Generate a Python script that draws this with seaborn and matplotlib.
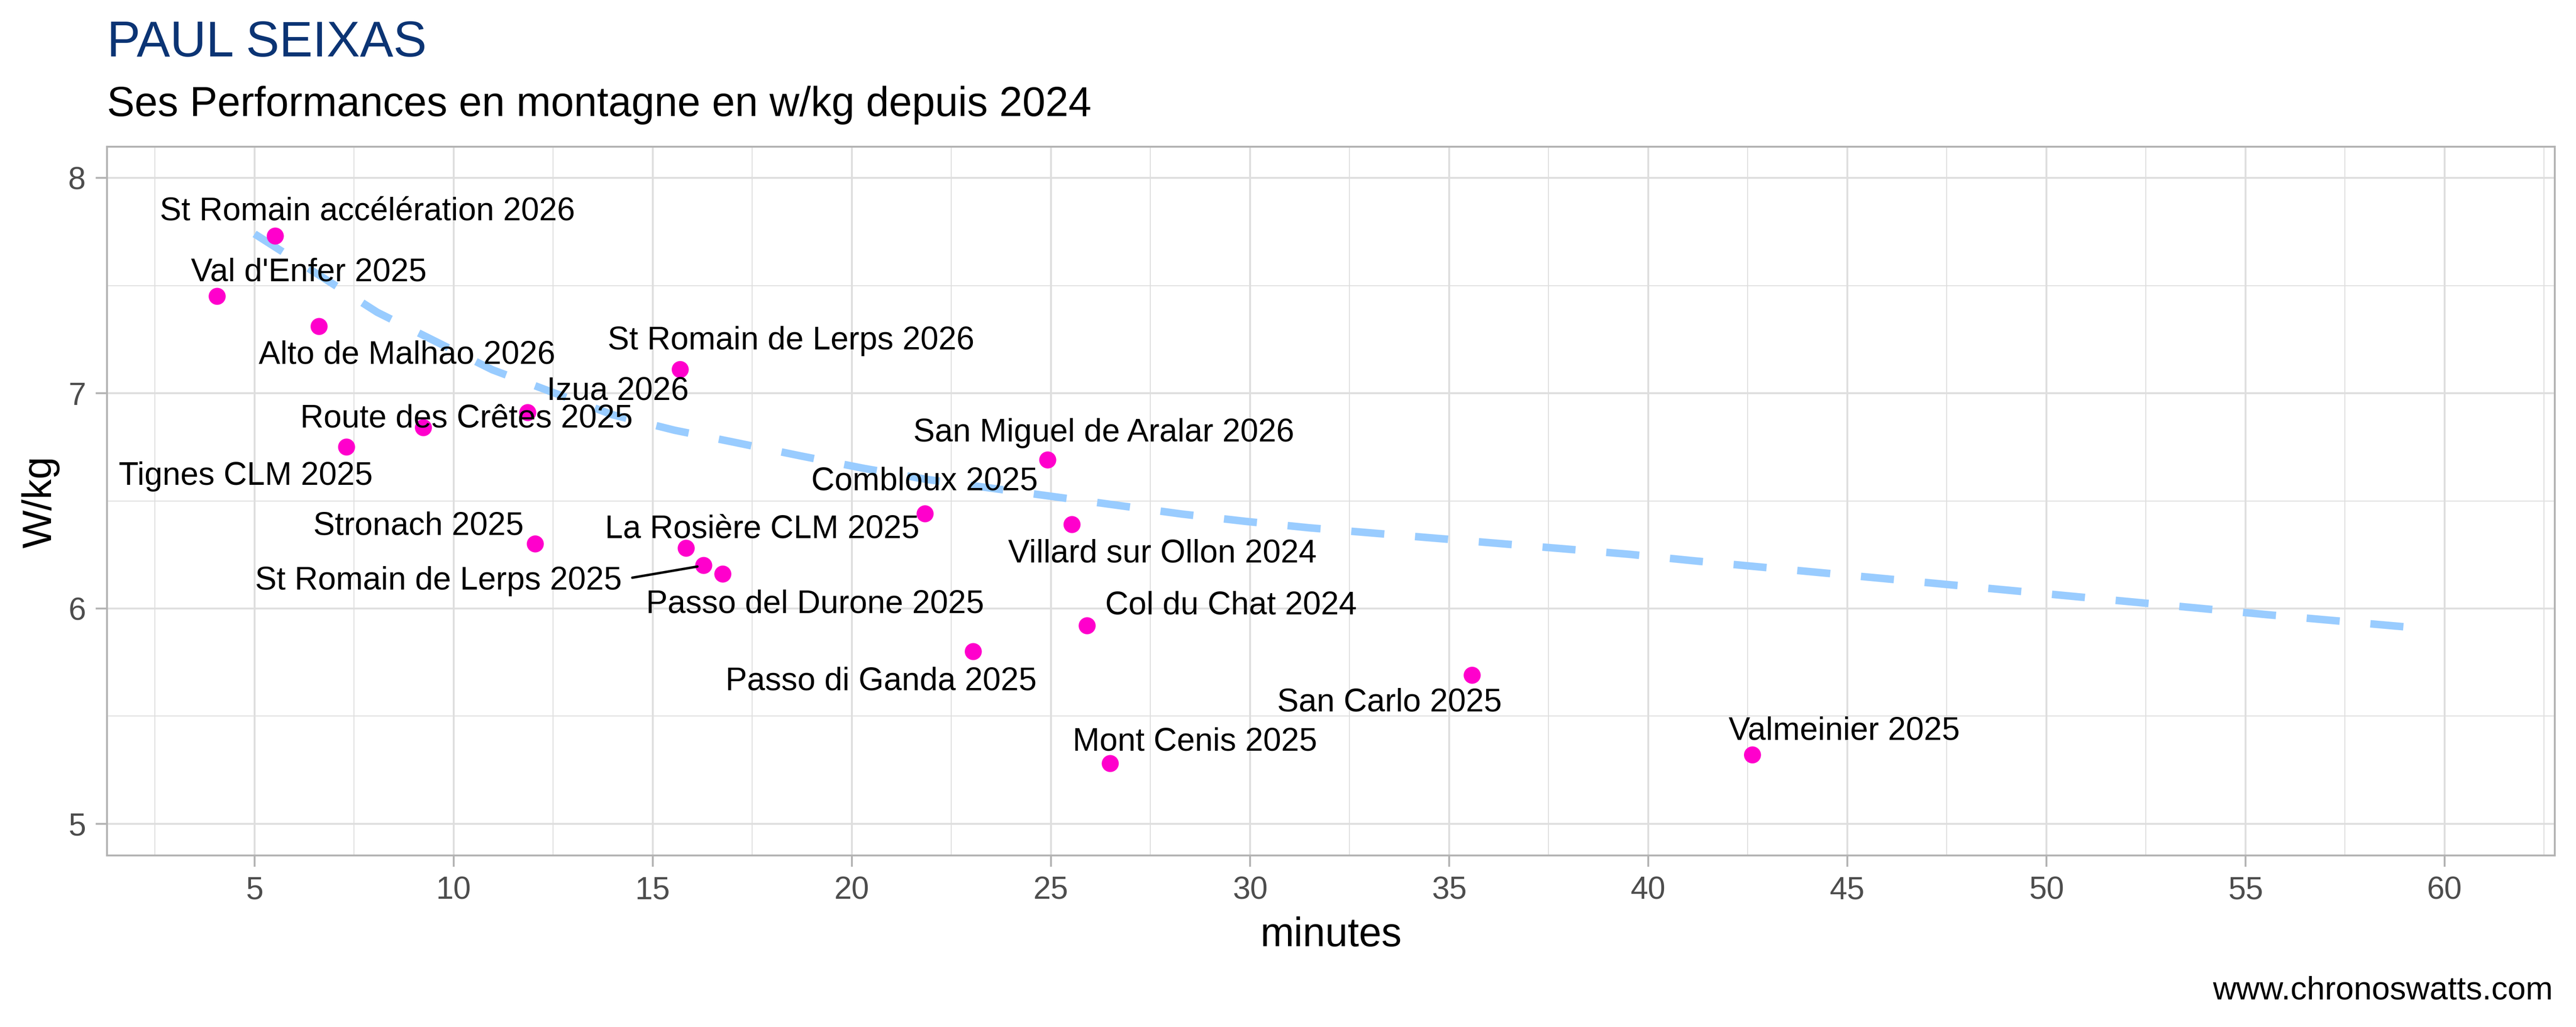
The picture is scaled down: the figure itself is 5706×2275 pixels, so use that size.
import matplotlib
matplotlib.use("Agg")
import matplotlib.pyplot as plt
from matplotlib.ticker import MultipleLocator
import seaborn as sns
import pandas as pd

# ---------------- data ----------------
climbs = [
    "St Romain accélération 2026", "Val d'Enfer 2025", "Alto de Malhao 2026",
    "St Romain de Lerps 2026", "Izua 2026", "Route des Crêtes 2025",
    "Tignes CLM 2025", "San Miguel de Aralar 2026", "Combloux 2025",
    "Villard sur Ollon 2024", "Stronach 2025", "La Rosière CLM 2025",
    "St Romain de Lerps 2025", "Passo del Durone 2025", "Col du Chat 2024",
    "Passo di Ganda 2025", "San Carlo 2025", "Valmeinier 2025", "Mont Cenis 2025",
]
minutes = [5.52, 4.06, 6.62, 15.69, 11.86, 9.24, 7.31, 24.92, 21.84, 25.53,
           12.05, 15.84, 16.28, 16.76, 25.91, 23.05, 35.58, 42.62, 26.49]
wkg = [7.73, 7.45, 7.31, 7.11, 6.91, 6.84, 6.75, 6.69, 6.44, 6.39,
       6.30, 6.28, 6.20, 6.16, 5.92, 5.80, 5.69, 5.32, 5.28]

# reference trend curve
trend_minutes = [5.0, 8.08, 10.97, 13.99, 15.55, 17.0, 18.71, 20.30, 21.87,
                 28.28, 29.88, 31.48, 38.03, 39.52, 41.13, 49.16, 50.76, 55.57, 59.18]
trend_wkg = [7.74, 7.376, 7.109, 6.90, 6.828, 6.774, 6.709, 6.651, 6.600,
             6.439, 6.405, 6.375, 6.275, 6.252, 6.222, 6.083, 6.055, 5.971, 5.912]

x_ticks = [5, 10, 15, 20, 25, 30, 35, 40, 45, 50, 55, 60]
y_ticks = [5, 6, 7, 8]

title = "PAUL SEIXAS"
subtitle = "Ses Performances en montagne en w/kg depuis 2024"
caption = "www.chronoswatts.com"

df = pd.DataFrame({"climb": climbs, "minutes": minutes, "wkg": wkg})
trend = pd.DataFrame({"minutes": trend_minutes, "wkg": trend_wkg})

# ---------------- layout / style ----------------
# label offsets (pixels at 300 dpi): (dx to text centre, dy up to baseline)
label_offsets_px = [
    (204, 34), (203, 34), (195, -82), (245, 45), (199, 28), (95, 1),
    (-223, -84), (124, 41), (-1, 53), (200, -84), (-259, 20), (168, 22),
    (-588, -53), (204, -86), (319, 26), (-204, -85), (-183, -80),
    (203, 34), (187, 29),
]
segment_labels = {"St Romain de Lerps 2025"}

W, H, DPI = 5706, 2275, 300
sns.set_theme(style="whitegrid")
plt.rcParams["font.family"] = ["Liberation Sans", "DejaVu Sans"]

fig = plt.figure(figsize=(W / DPI, H / DPI), dpi=DPI)
fig.patch.set_facecolor("white")
L, R, T, B = 237, 5659, 325, 1895
ax = fig.add_axes([L / W, 1 - B / H, (R - L) / W, (B - T) / H])
ax.set_facecolor("white")

grid_col = "#DEDEDE"
border_col = "#B3B3B3"
px2pt = 72 / DPI

sns.lineplot(data=trend, x="minutes", y="wkg", ax=ax, color="#99CCFF",
             linewidth=4.0, linestyle=(0, (4.4, 4.1)), zorder=3,
             legend=False, estimator=None)
for ln in ax.get_lines():
    ln.set_dash_capstyle("butt")

sns.scatterplot(data=df, x="minutes", y="wkg", ax=ax, color="#FF00CC",
                s=82, edgecolor="none", linewidth=0, zorder=4, legend=False)

for name, mx, my, (dx, dy) in zip(climbs, minutes, wkg, label_offsets_px):
    kw = {}
    if name in segment_labels:
        kw["arrowprops"] = dict(arrowstyle="-", color="black", lw=1.3,
                                shrinkA=3.6, shrinkB=3.4, relpos=(1.0, 0.55))
    ax.annotate(name, xy=(mx, my), xytext=(dx * px2pt, dy * px2pt),
                textcoords="offset points", ha="center", va="baseline",
                fontsize=17.2, color="black", zorder=5, **kw)

ax.set_xlim(1.293, 62.77)
ax.set_ylim(4.853, 8.145)
ax.set_xticks(x_ticks)
ax.set_yticks(y_ticks)
ax.xaxis.set_minor_locator(MultipleLocator(2.5))
ax.yaxis.set_minor_locator(MultipleLocator(0.5))
ax.grid(which="major", color=grid_col, linewidth=1.0)
ax.grid(which="minor", color=grid_col, linewidth=0.5)
ax.set_axisbelow(True)
for sp in ax.spines.values():
    sp.set_color(border_col)
    sp.set_linewidth(1.0)
ax.tick_params(axis="both", which="major", length=6, width=1.0,
               color=border_col, labelcolor="#4D4D4D", labelsize=16.8)
ax.tick_params(axis="x", which="major", pad=4.8, bottom=True)
ax.tick_params(axis="y", which="major", pad=5.3, left=True)
ax.tick_params(which="minor", length=0)
ax.set_xlabel("")
ax.set_ylabel("")

fig.text(L / W, 1 - 125 / H, title, fontsize=26.6, color="#0B3474",
         ha="left", va="baseline")
fig.text(L / W, 1 - 257 / H, subtitle, fontsize=22.0, color="black",
         ha="left", va="baseline")
fig.text((L + R) / 2 / W, 1 - 2096 / H, "minutes", fontsize=21.5,
         color="black", ha="center", va="baseline")
fig.text(90 / W, 1 - 1112 / H, "W/kg", fontsize=21.5, color="black",
         rotation=90, ha="center", va="center")
fig.text(5655 / W, 1 - 2213 / H, caption, fontsize=17.3, color="black",
         ha="right", va="baseline")

fig.savefig("out.png", dpi=DPI, facecolor="white")
